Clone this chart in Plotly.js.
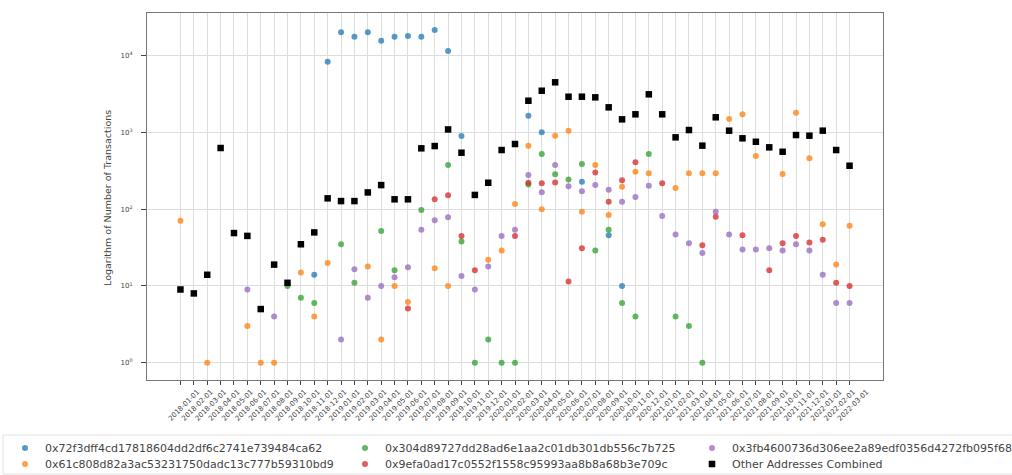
<!DOCTYPE html>
<html><head><meta charset="utf-8">
<script src="https://cdn.plot.ly/plotly-3.0.1.min.js"></script>
<style>html,body{margin:0;padding:0;background:#fff;}#chart{width:1012px;height:475px;}</style>
</head><body><div id="chart"></div>
<script>
const months = ["2018-01-01","2018-02-01","2018-03-01","2018-04-01","2018-05-01","2018-06-01","2018-07-01","2018-08-01","2018-09-01","2018-10-01","2018-11-01","2018-12-01",
"2019-01-01","2019-02-01","2019-03-01","2019-04-01","2019-05-01","2019-06-01","2019-07-01","2019-08-01","2019-09-01","2019-10-01","2019-11-01","2019-12-01",
"2020-01-01","2020-02-01","2020-03-01","2020-04-01","2020-05-01","2020-06-01","2020-07-01","2020-08-01","2020-09-01","2020-10-01","2020-11-01","2020-12-01",
"2021-01-01","2021-02-01","2021-03-01","2021-04-01","2021-05-01","2021-06-01","2021-07-01","2021-08-01","2021-09-01","2021-10-01","2021-11-01","2021-12-01",
"2022-01-01","2022-02-01","2022-03-01"];

const seriesNames = ["0x72f3dff4cd17818604dd2df6c2741e739484ca62","0x61c808d82a3ac53231750dadc13c777b59310bd9","0x304d89727dd28ad6e1aa2c01db301db556c7b725","0x9efa0ad17c0552f1558c95993aa8b8a68b3e709c","0x3fb4600736d306ee2a89edf0356d4272fb095f68","Other Addresses Combined"];
const yAxisTitle = "Logarithm of Number of Transactions";

const addrBlue = [null,null,null,null,null,null,null,null,null,null,14,8400,20300,17800,20300,15800,17800,18200,17800,21800,11600,903,null,null,null,null,1660,1010,null,null,229,null,46,10,null,null,null,null,null,null,null,null,null,null,null,null,null,null,null,null,null];
const addrOrange = [71,null,1,null,null,3,1,1,null,15,4,20,null,null,18,2,10,6.2,null,17,10,null,null,22,29,117,676,100,912,1060,93,378,84,197,310,295,null,190,295,295,295,1500,1730,495,null,288,1820,462,64,19,61];
const addrGreen = [null,null,null,null,null,null,null,null,10,7,6,null,35,11,null,52,16,null,98,null,378,38,1,2,1,1,210,525,286,245,390,29,54,6,4,525,null,4,3,1,null,null,null,null,null,null,null,null,null,null,null];
const addrRed = [null,null,null,null,null,null,null,null,null,null,null,null,null,null,null,null,null,5.1,null,135,153,45,16,null,null,45,222,218,224,11.4,31,303,125,240,410,null,218,null,null,34,80,null,46,null,16,36,45,37,40,11,10];
const addrPurple = [null,null,null,null,null,9,null,4,null,null,null,null,2,16.5,7,10,13,17.5,54,72,79,13.5,9,18,45,54,280,167,378,200,172,207,180,125,145,203,82,47,36,27,93,47,30,30,31,29,35,29,14,6,6];
const otherCombined = [9,8,14,630,49,45,5,19,11,35,50,139,128,128,166,207,135,135,624,668,1100,547,154,222,593,710,2606,3516,4530,2940,2940,2885,2137,1490,1733,3160,1733,868,1081,676,1584,1060,843,760,643,563,930,912,1060,593,370];

const yTickVals = [1,10,100,1000,10000];
const yTickText = ["10<sup>0</sup>","10<sup>1</sup>","10<sup>2</sup>","10<sup>3</sup>","10<sup>4</sup>"];

const colors = ["#1f77b4","#ff7f0e","#2ca02c","#d62728","#9467bd","#000000"];
const seriesData = [addrBlue, addrOrange, addrGreen, addrRed, addrPurple, otherCombined];
const legendIds = ["legend","legend3","legend2","legend4","legend5","legend6"];

const FONT = "DejaVu Sans, Liberation Sans, sans-serif";
const traces = seriesData.map((ys, k) => ({
  type: "scatter", mode: "markers", x: months, y: ys, name: seriesNames[k],
  legend: legendIds[k],
  marker: k === 5 ? {symbol: "square", size: 6.5, color: colors[k]} :
                    {symbol: "circle", size: 6, color: colors[k], opacity: 0.75},
  hoverinfo: "x+y+name"
}));

function legendAt(px, py) {
  return {x: px / 1012, y: 1 - py / 475, xref: "container", yref: "container",
    xanchor: "left", yanchor: "top", bgcolor: "rgba(0,0,0,0)", borderwidth: 0,
    font: {family: FONT, size: 11, color: "#444"}, itemsizing: "trace"};
}

const layout = {
  width: 1012, height: 475,
  margin: {l: 147, r: 129, t: 13, b: 95, autoexpand: false},
  paper_bgcolor: "#fff", plot_bgcolor: "#fff",
  font: {family: FONT, color: "#222"},
  showlegend: true,
  xaxis: {
    type: "category", range: [-2.5, 52.5],
    showgrid: true, gridcolor: "#dedede", gridwidth: 0.8,
    showline: true, mirror: true, linecolor: "#777", linewidth: 1,
    ticks: "outside", ticklen: 4, tickwidth: 0.8, tickcolor: "#444",
    tickangle: -45, tickfont: {size: 7, family: FONT, color: "#444"},
    ticklabelshift: 17, zeroline: false
  },
  yaxis: {
    type: "log", range: [-0.226, 4.56],
    tickvals: yTickVals, ticktext: yTickText,
    showgrid: true, gridcolor: "#dedede", gridwidth: 0.8,
    showline: true, mirror: true, linecolor: "#777", linewidth: 1,
    ticks: "outside", ticklen: 5, tickwidth: 0.8, tickcolor: "#444",
    tickfont: {size: 7, family: FONT, color: "#444"},
    ticklabelstandoff: 7, zeroline: false
  },
  annotations: [{
    text: yAxisTitle, xref: "paper", yref: "paper",
    x: (107 - 147) / 736, y: (380 - 198) / 367, xanchor: "center", yanchor: "middle",
    textangle: -90, showarrow: false, font: {size: 9.5, family: FONT, color: "#444"}
  }],
  legend: legendAt(5, 433.5),
  legend3: legendAt(5, 449.5),
  legend2: legendAt(345, 433.5),
  legend4: legendAt(345, 449.5),
  legend5: legendAt(692, 433.5),
  legend6: legendAt(692, 449.5),
  shapes: [{type: "rect", xref: "paper", yref: "paper",
    x0: (3 - 147) / 736, x1: (1020 - 147) / 736, y0: (380 - 435) / 367, y1: (380 - 474) / 367,
    line: {color: "#e2e2e2", width: 1}, fillcolor: "rgba(0,0,0,0)"}]
};

Plotly.newPlot("chart", traces, layout, {displayModeBar: false, responsive: false});
</script></body></html>
